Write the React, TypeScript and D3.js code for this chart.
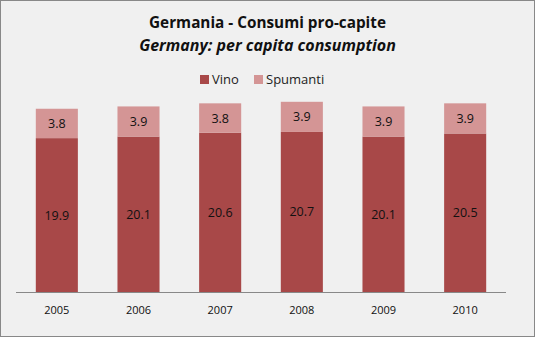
import React from "react";
import * as d3 from "d3";

const categories = ["2005", "2006", "2007", "2008", "2009", "2010"];
const vino = [19.9, 20.1, 20.6, 20.7, 20.1, 20.5];
const spumanti = [3.8, 3.9, 3.8, 3.9, 3.9, 3.9];
const seriesNames = ["Vino", "Spumanti"];

const W = 535, H = 337;
const FONT = "'Open Sans', 'Noto Sans', sans-serif";

export default function App() {
  const x = d3.scaleBand().domain(categories).range([16, 506]).paddingInner(0.485).paddingOuter(0.2425);
  const y = d3.scaleLinear().domain([0, 25]).range([292, 292 - 193.3]);
  const colors = ["#A84848", "#D49595"];
  const data = categories.map((c, i) => ({ c, v: vino[i], s: spumanti[i] }));
  return (
    <svg width={W} height={H} style={{ position: "absolute", left: 0, top: 0 }}>
      <rect x={0.5} y={0.5} width={W - 1} height={H - 1} fill="#F0F0F0" stroke="#888" />
      <text x={W / 2} y={28} textAnchor="middle" fontFamily={FONT} fontWeight="bold" fontSize={15.3} fill="#111">
        Germania - Consumi pro-capite
      </text>
      <text x={W / 2} y={50.5} textAnchor="middle" fontFamily={FONT} fontWeight="bold" fontStyle="italic" fontSize={16} fill="#111">
        Germany: per capita consumption
      </text>
      {seriesNames.map((n, i) => {
        const lx = i === 0 ? 200 : 254;
        return (
          <g key={n}>
            <rect x={lx} y={75} width={9} height={9} fill={colors[i]} />
            <text x={lx + 12} y={84} fontFamily={FONT} fontSize={13} fill="#222">{n}</text>
          </g>
        );
      })}
      {data.map((d) => {
        const bx = x(d.c)!;
        const bw = x.bandwidth();
        return (
          <g key={d.c}>
            <rect x={bx} y={y(d.v)} width={bw} height={y(0) - y(d.v)} fill={colors[0]} />
            <rect x={bx} y={y(d.v + d.s)} width={bw} height={y(d.v) - y(d.v + d.s)} fill={colors[1]} />
            <text x={bx + bw / 2} y={(y(0) + y(d.v)) / 2 + 4.5} textAnchor="middle" fontFamily={FONT} fontSize={12.5} fill="#111">
              {d.v.toFixed(1)}
            </text>
            <text x={bx + bw / 2} y={(y(d.v) + y(d.v + d.s)) / 2 + 4.5} textAnchor="middle" fontFamily={FONT} fontSize={12.5} fill="#111">
              {d.s.toFixed(1)}
            </text>
            <text x={bx + bw / 2} y={314} textAnchor="middle" fontFamily={FONT} fontSize={11} fill="#111">
              {d.c}
            </text>
          </g>
        );
      })}
      <line x1={16} x2={506} y1={292.5} y2={292.5} stroke="#888" />
    </svg>
  );
}
